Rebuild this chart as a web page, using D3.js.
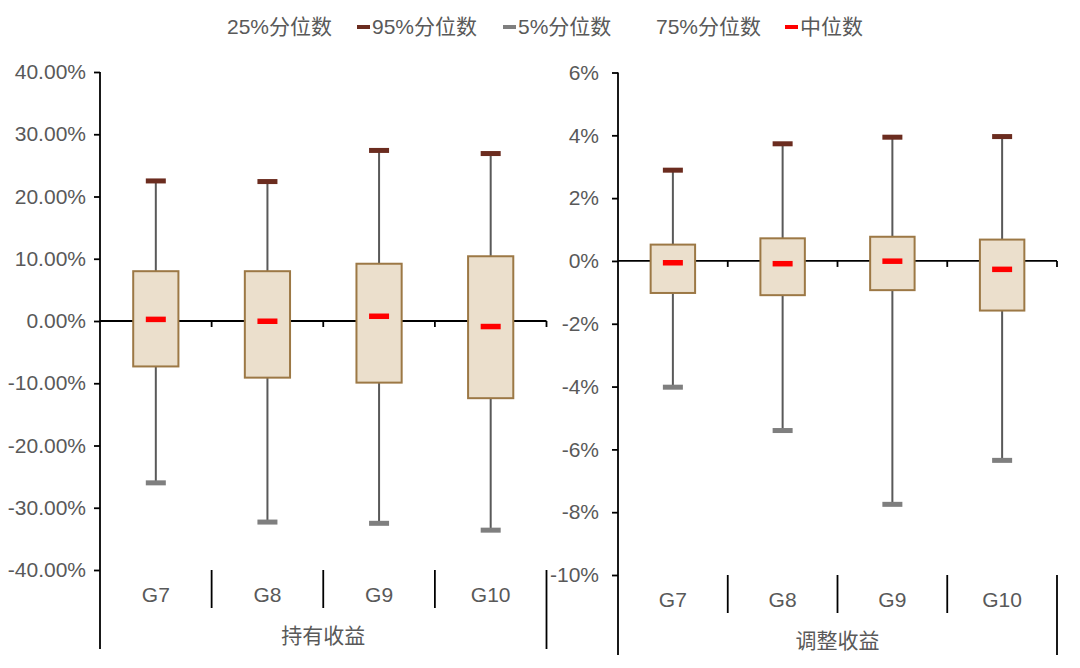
<!DOCTYPE html>
<html>
<head>
<meta charset="utf-8">
<script src="https://cdn.jsdelivr.net/npm/d3@7"></script>
<style>
  html, body { margin: 0; padding: 0; background: #fff; }
  svg { display: block; font-family: "Liberation Sans", Arial, "Noto Sans CJK SC", sans-serif; }
  .tick-label { fill: #595959; font-size: 21px; }
  .cat-label { fill: #595959; font-size: 21px; }
  .legend-text { fill: #595959; font-size: 21px; }
</style>
</head>
<body>
<div id="chart"></div>
<script>
// Kategorien
const categories = ["G7", "G8", "G9", "G10"];

// 持有收益 (in %)
const holdP95 = [22.5, 22.4, 27.4, 26.9];
const holdP75 = [8.0, 8.0, 9.2, 10.4];
const holdMedian = [0.3, 0.0, 0.8, -0.85];
const holdP25 = [-7.3, -9.1, -9.9, -12.4];
const holdP5 = [-26.0, -32.3, -32.5, -33.6];
const holdTicks = [-40, -30, -20, -10, 0, 10, 20, 30, 40];

// 调整收益 (in %)
const adjP95 = [2.89, 3.73, 3.94, 3.96];
const adjP75 = [0.52, 0.72, 0.77, 0.68];
const adjMedian = [-0.05, -0.08, 0.0, -0.26];
const adjP25 = [-1.02, -1.09, -0.93, -1.58];
const adjP5 = [-4.02, -5.4, -7.75, -6.35];
const adjTicks = [-10, -8, -6, -4, -2, 0, 2, 4, 6];

// Legende
const legendItems = [
    { label: "25%分位数", color: null, x: 227 },
    { label: "95%分位数", color: "#6B2C1F", x: 357 },
    { label: "5%分位数", color: "#7F7F7F", x: 503 },
    { label: "75%分位数", color: null, x: 656 },
    { label: "中位数", color: "#FF0000", x: 785 }
];

const width = 1080;
const height = 668;

const fmt = d3.formatLocale({ decimal: ".", thousands: ",", grouping: [3], currency: ["", ""], minus: "-" });

const svg = d3.select("#chart")
    .append("svg")
    .attr("width", width)
    .attr("height", height)
    .attr("viewBox", [0, 0, width, height]);

// Legende zeichnen
const legend = svg.append("g");
legendItems.forEach(item => {
    let tx = item.x;
    if (item.color) {
        legend.append("rect")
            .attr("x", item.x)
            .attr("y", 25)
            .attr("width", 13)
            .attr("height", 4)
            .attr("fill", item.color);
        tx = item.x + 15;
    }
    legend.append("text")
        .attr("class", "legend-text")
        .attr("x", tx)
        .attr("y", 34)
        .text(item.label);
});

// Ein Panel zeichnen
function drawPanel(cfg) {
    const g = svg.append("g");

    const y = d3.scaleLinear()
        .domain([cfg.ticks[0], cfg.ticks[cfg.ticks.length - 1]])
        .range([cfg.yBottom, cfg.yTop]);

    const x = d3.scaleBand()
        .domain(categories)
        .range([cfg.xLeft, cfg.xRight])
        .padding(0);

    const bw = x.bandwidth();
    const boxW = bw * 0.405;
    const capW = 20;

    // Y-Achse
    const yAxis = d3.axisLeft(y)
        .tickValues(cfg.ticks)
        .tickSize(6)
        .tickPadding(cfg.tickPad)
        .tickFormat(d => fmt.format(cfg.format)(d / 100));

    const ya = g.append("g")
        .attr("transform", `translate(${cfg.xLeft},0)`)
        .call(yAxis);
    ya.select(".domain").remove();
    ya.selectAll(".tick line").attr("stroke", "#000").attr("stroke-width", 1.8);
    ya.selectAll(".tick text")
        .attr("class", "tick-label")
        .attr("fill", "#595959")
        .attr("font-size", 21);

    // Y-Achsenlinie bis ganz unten
    g.append("line")
        .attr("x1", cfg.xLeft).attr("x2", cfg.xLeft)
        .attr("y1", cfg.yTop).attr("y2", cfg.bottom)
        .attr("stroke", "#000").attr("stroke-width", 1.8);

    // X-Achse bei 0
    const y0 = y(0);
    g.append("line")
        .attr("x1", cfg.xLeft).attr("x2", cfg.xRight)
        .attr("y1", y0).attr("y2", y0)
        .attr("stroke", "#000").attr("stroke-width", 1.8);

    const bounds = categories.map(c => x(c) + bw);
    g.selectAll(".xtick")
        .data(bounds)
        .join("line")
        .attr("x1", d => d).attr("x2", d => d)
        .attr("y1", y0).attr("y2", y0 + 6)
        .attr("stroke", "#000").attr("stroke-width", 1.8);

    // Trennlinien unten
    g.selectAll(".sep")
        .data(bounds.slice(0, -1))
        .join("line")
        .attr("x1", d => d).attr("x2", d => d)
        .attr("y1", cfg.yBottom).attr("y2", cfg.yBottom + 38)
        .attr("stroke", "#000").attr("stroke-width", 1.8);
    g.append("line")
        .attr("x1", cfg.xRight).attr("x2", cfg.xRight)
        .attr("y1", cfg.yBottom).attr("y2", cfg.bottom)
        .attr("stroke", "#000").attr("stroke-width", 1.8);

    // Kategorie-Labels
    g.selectAll(".cat")
        .data(categories)
        .join("text")
        .attr("class", "cat-label")
        .attr("x", d => x(d) + bw / 2)
        .attr("y", cfg.yBottom + 32)
        .attr("text-anchor", "middle")
        .text(d => d);

    // Titel
    g.append("text")
        .attr("class", "cat-label")
        .attr("x", (cfg.xLeft + cfg.xRight) / 2)
        .attr("y", cfg.titleY)
        .attr("text-anchor", "middle")
        .text(cfg.title);

    const rows = categories.map((c, i) => ({
        cat: c,
        p95: cfg.p95[i], p75: cfg.p75[i], med: cfg.med[i], p25: cfg.p25[i], p5: cfg.p5[i]
    }));

    const item = g.selectAll(".item")
        .data(rows)
        .join("g")
        .attr("transform", d => `translate(${x(d.cat) + bw / 2},0)`);

    // Whisker
    item.append("line")
        .attr("x1", 0).attr("x2", 0)
        .attr("y1", d => y(d.p95)).attr("y2", d => y(d.p5))
        .attr("stroke", "#595959").attr("stroke-width", 2);

    // Box
    item.append("rect")
        .attr("x", -boxW / 2)
        .attr("width", boxW)
        .attr("y", d => y(d.p75))
        .attr("height", d => y(d.p25) - y(d.p75))
        .attr("fill", "#EBDFCC")
        .attr("stroke", "#9C7845")
        .attr("stroke-width", 2);

    // 95% Kappe
    item.append("rect")
        .attr("x", -capW / 2).attr("width", capW)
        .attr("y", d => y(d.p95) - 2.5).attr("height", 5)
        .attr("fill", "#6B2C1F");

    // 5% Kappe
    item.append("rect")
        .attr("x", -capW / 2).attr("width", capW)
        .attr("y", d => y(d.p5) - 2.5).attr("height", 5)
        .attr("fill", "#7F7F7F");

    // Median
    item.append("rect")
        .attr("x", -capW / 2).attr("width", capW)
        .attr("y", d => y(d.med) - 2.5).attr("height", 5.5)
        .attr("fill", "#FF0000");
}

drawPanel({
    xLeft: 100, xRight: 546.5, yTop: 72, yBottom: 570, bottom: 649,
    ticks: holdTicks, format: ".2%", tickPad: 8, titleY: 643,
    title: "持有收益",
    p95: holdP95, p75: holdP75, med: holdMedian, p25: holdP25, p5: holdP5
});

drawPanel({
    xLeft: 618, xRight: 1057, yTop: 72.5, yBottom: 575, bottom: 655,
    ticks: adjTicks, format: ".0%", tickPad: 13, titleY: 648,
    title: "调整收益",
    p95: adjP95, p75: adjP75, med: adjMedian, p25: adjP25, p5: adjP5
});
</script>
</body>
</html>
